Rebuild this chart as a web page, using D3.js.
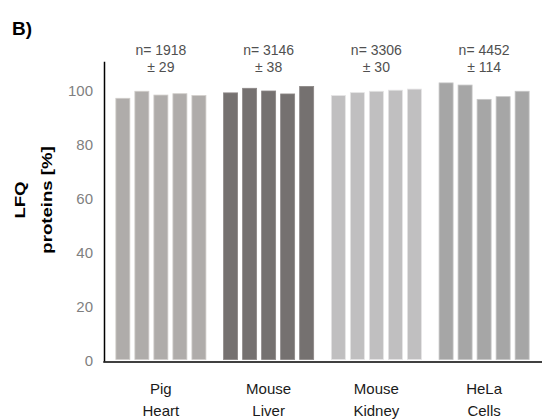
<!DOCTYPE html>
<html>
<head>
<meta charset="utf-8">
<script src="https://cdn.jsdelivr.net/npm/d3@7"></script>
<style>
  html, body { margin: 0; padding: 0; background: #fff; }
  svg { display: block; font-family: "Liberation Sans", Arial, sans-serif; }
</style>
</head>
<body>
<svg id="chart" width="542" height="419"></svg>
<script>
// Sample groups and their replicate measurements (LFQ proteins, % of mean)
const categories = ["Pig\nHeart", "Mouse\nLiver", "Mouse\nKidney", "HeLa\nCells"];
const replicates = ["R1", "R2", "R3", "R4", "R5"];
const pigHeart    = [97.3, 99.9, 98.5, 99.0, 98.3];
const mouseLiver  = [99.3, 101.0, 100.0, 98.9, 101.7];
const mouseKidney = [98.3, 99.4, 99.9, 100.3, 100.7];
const helaCells   = [103.0, 102.2, 96.9, 97.9, 99.9];
const proteinCounts = ["n= 1918", "n= 3146", "n= 3306", "n= 4452"];
const countErrors   = ["± 29", "± 38", "± 30", "± 114"];
const yTicks = [0, 20, 40, 60, 80, 100];
const groupColors = ["#afacaa", "#757170", "#c0bfc0", "#a6a6a6"];

const series = [pigHeart, mouseLiver, mouseKidney, helaCells];
const groups = categories.map((c, i) => ({
  name: c,
  values: series[i],
  color: groupColors[i],
  count: proteinCounts[i],
  err: countErrors[i]
}));

const svg = d3.select("#chart");

const x0 = d3.scaleBand()
  .domain(categories)
  .range([104, 541])
  .paddingInner(0.164)
  .paddingOuter(0.11);

const x1 = d3.scaleBand()
  .domain(replicates)
  .range([0, x0.bandwidth()])
  .paddingInner(0.263)
  .paddingOuter(0);

const y = d3.scaleLinear().domain([0, 111]).range([361, 61.3]);

// Bars
const g = svg.append("g");
groups.forEach(grp => {
  g.append("g")
    .attr("transform", `translate(${x0(grp.name)},0)`)
    .selectAll("rect")
    .data(grp.values.map((v, i) => ({ v, r: replicates[i] })))
    .join("rect")
    .attr("x", d => x1(d.r))
    .attr("width", x1.bandwidth())
    .attr("y", d => y(d.v))
    .attr("height", d => y(0) - 1.5 - y(d.v))
    .attr("fill", grp.color)
    .attr("stroke", d3.color(grp.color).brighter(0.5))
    .attr("stroke-width", 0.8);
});

// Y axis
const yAxis = d3.axisLeft(y).tickValues(yTicks).tickSize(0).tickPadding(11);
const ya = svg.append("g").attr("transform", "translate(104,0)").call(yAxis);
ya.select(".domain").attr("stroke", "#000").attr("stroke-width", 1.5);
ya.selectAll("text")
  .attr("font-size", 15)
  .attr("fill", "#7f7f7f")
  .attr("font-family", "Liberation Sans, Arial, sans-serif");

// X axis line
const xAxis = d3.axisBottom(x0).tickSize(0).tickFormat("");
const xa = svg.append("g").attr("transform", "translate(0,362)").call(xAxis);
xa.select(".domain").attr("stroke", "#000").attr("stroke-width", 1.5)
  .attr("d", "M103.25,0H542");

// Category labels (two lines) and protein count annotations
groups.forEach(grp => {
  const cx = x0(grp.name) + x0.bandwidth() / 2;
  const t = svg.append("text")
    .attr("text-anchor", "middle")
    .attr("font-size", 15)
    .attr("fill", "#1a1a1a");
  grp.name.split("\n").forEach((line, i) => {
    t.append("tspan").attr("x", cx).attr("y", 394 + i * 22).text(line);
  });
  svg.append("text")
    .attr("x", cx).attr("y", 55)
    .attr("text-anchor", "middle")
    .attr("font-size", 14)
    .attr("fill", "#505050")
    .text(grp.count);
  svg.append("text")
    .attr("x", cx).attr("y", 72)
    .attr("text-anchor", "middle")
    .attr("font-size", 14)
    .attr("fill", "#505050")
    .text(grp.err);
});

// Y axis title
const yt = svg.append("text")
  .attr("transform", "translate(0,200) rotate(-90) scale(1.2,1)")
  .attr("text-anchor", "middle")
  .attr("font-size", 15.5)
  .attr("font-weight", "bold")
  .attr("fill", "#000");
yt.append("tspan").attr("x", 0).attr("y", 25.5).text("LFQ");
yt.append("tspan").attr("x", 0).attr("y", 52.5).text("proteins [%]");

// Panel label
svg.append("text")
  .attr("x", 12).attr("y", 35)
  .attr("font-size", 19)
  .attr("font-weight", "bold")
  .attr("fill", "#000")
  .text("B)");
</script>
</body>
</html>
